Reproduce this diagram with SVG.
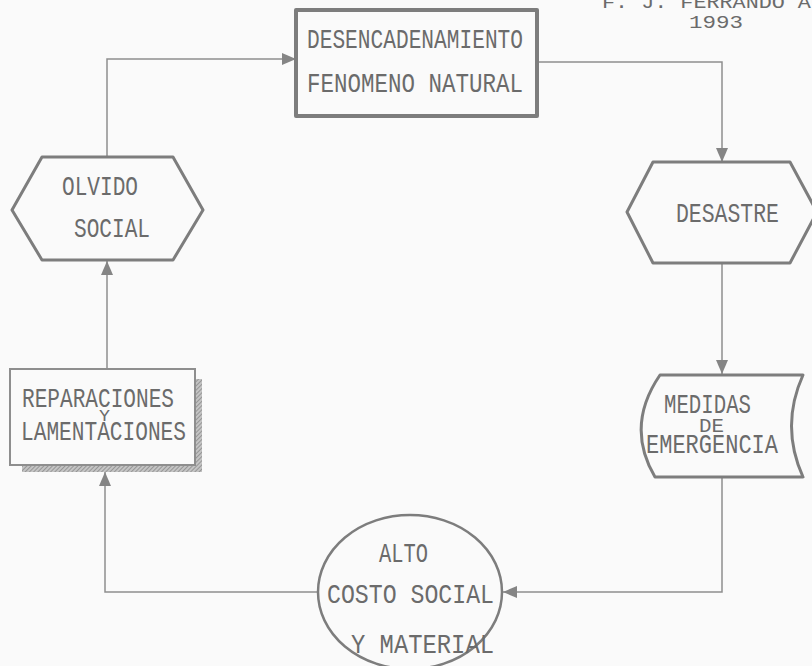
<svg xmlns="http://www.w3.org/2000/svg" width="812" height="666" viewBox="0 0 812 666">
  <defs>
    <style>
      .txt { font-family: "Liberation Mono", "DejaVu Sans Mono", monospace; fill: #6b6b6b; font-size: 27px; }
      .small { font-size: 20px; }
      .node { fill: none; stroke: #7d7d7d; stroke-width: 3; stroke-linejoin: round; }
      .thin { fill: none; stroke: #8e8e8e; stroke-width: 2; }
      .link { fill: none; stroke: #8e8e8e; stroke-width: 1.5; }
    </style>
    <marker id="arrow" markerUnits="userSpaceOnUse" markerWidth="16" markerHeight="12" refX="14" refY="6" orient="auto">
      <path d="M0,0 L14,6 L0,12 Z" fill="#858585"/>
    </marker>
    <pattern id="hatch" width="3" height="3" patternUnits="userSpaceOnUse" patternTransform="rotate(45)">
      <rect width="3" height="3" fill="#c4c4c4"/>
      <line x1="0" y1="0" x2="0" y2="3" stroke="#8a8a8a" stroke-width="1.6"/>
    </pattern>
  </defs>

  <rect width="812" height="666" fill="#fafafa"/>

  <!-- author and year -->
  <g id="author">
    <text class="txt" x="602" y="8" style="font-size:19px" textLength="222" lengthAdjust="spacingAndGlyphs">F. J. FERRANDO A.</text>
    <text class="txt" x="689" y="28" style="font-size:19px" textLength="54" lengthAdjust="spacingAndGlyphs">1993</text>
  </g>

  <!-- connectors -->
  <g id="connectors">
    <path class="link" d="M107,157 V59 H296" marker-end="url(#arrow)"/>
    <path class="link" d="M537,62 H722 V162" marker-end="url(#arrow)"/>
    <path class="link" d="M722,263 V374" marker-end="url(#arrow)"/>
    <path class="link" d="M722,477 V592 H503" marker-end="url(#arrow)"/>
    <path class="link" d="M318,592 H105 V472" marker-end="url(#arrow)"/>
    <path class="link" d="M107,369 V261" marker-end="url(#arrow)"/>
  </g>

  <!-- trigger: natural phenomenon -->
  <g id="desencadenamiento">
    <rect class="node" x="296" y="10" width="241" height="106" style="stroke-width:4"/>
    <text class="txt" x="307" y="48" textLength="216" lengthAdjust="spacingAndGlyphs">DESENCADENAMIENTO</text>
    <text class="txt" x="307" y="92" textLength="216" lengthAdjust="spacingAndGlyphs">FENOMENO  NATURAL</text>
  </g>

  <!-- disaster -->
  <g id="desastre">
    <path class="node" d="M653,162 H790 L817,212 L790,263 H653 L627,212 Z"/>
    <text class="txt" x="676" y="222" textLength="103" lengthAdjust="spacingAndGlyphs">DESASTRE</text>
  </g>

  <!-- emergency measures (stored data shape) -->
  <g id="medidas">
    <path class="node" d="M660,375 H803 Q780,426 803,477 H655 Q625,426 660,375 Z"/>
    <text class="txt" x="664" y="413" textLength="87" lengthAdjust="spacingAndGlyphs">MEDIDAS</text>
    <text class="txt small" x="699" y="432" textLength="25" lengthAdjust="spacingAndGlyphs">DE</text>
    <text class="txt" x="646" y="453" textLength="132" lengthAdjust="spacingAndGlyphs">EMERGENCIA</text>
  </g>

  <!-- high social and material cost -->
  <g id="alto-costo">
    <ellipse class="node" cx="410" cy="592" rx="92" ry="77" style="stroke-width:2.5"/>
    <text class="txt" x="379" y="562" textLength="49" lengthAdjust="spacingAndGlyphs">ALTO</text>
    <text class="txt" x="327" y="603" textLength="167" lengthAdjust="spacingAndGlyphs">COSTO  SOCIAL</text>
    <text class="txt" x="351" y="653" textLength="143" lengthAdjust="spacingAndGlyphs">Y MATERIAL</text>
  </g>

  <!-- repairs and laments -->
  <g id="reparaciones">
    <rect x="195" y="379" width="7" height="93" fill="url(#hatch)"/>
    <rect x="22" y="465" width="180" height="7" fill="url(#hatch)"/>
    <rect class="thin" x="10" y="369" width="185" height="96"/>
    <text class="txt" x="22" y="407" textLength="152" lengthAdjust="spacingAndGlyphs">REPARACIONES</text>
    <text class="txt small" x="99" y="421" style="font-size:17px" textLength="11" lengthAdjust="spacingAndGlyphs">Y</text>
    <text class="txt" x="21" y="440" textLength="165" lengthAdjust="spacingAndGlyphs">LAMENTACIONES</text>
  </g>

  <!-- social forgetting -->
  <g id="olvido">
    <path class="node" d="M42,157 H173 L203,210 L173,260 H42 L12,210 Z"/>
    <text class="txt" x="62" y="195" textLength="76" lengthAdjust="spacingAndGlyphs">OLVIDO</text>
    <text class="txt" x="74" y="237" textLength="76" lengthAdjust="spacingAndGlyphs">SOCIAL</text>
  </g>
</svg>
